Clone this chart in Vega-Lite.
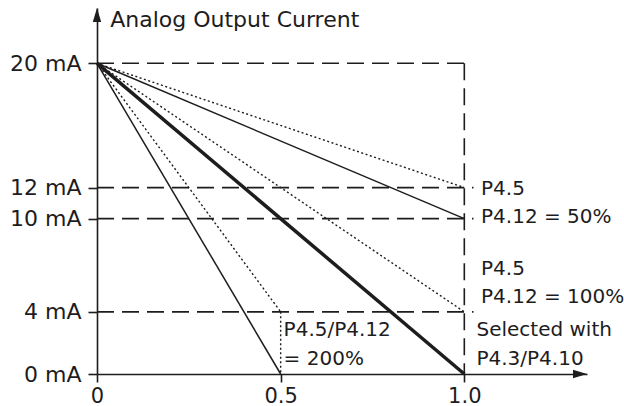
{
  "$schema": "https://vega.github.io/schema/vega-lite/v6.json",
  "width": 490,
  "height": 366,
  "autosize": {"type": "none"},
  "padding": {"left": 97, "top": 8, "right": 37, "bottom": 32},
  "background": "white",
  "config": {"view": {"stroke": null}, "font": "DejaVu Sans"},
  "datasets": {
    "segs": [
      {"style": "dash", "x": 0, "y": 20, "x2": 1.0, "y2": 20},
      {"style": "dash", "x": 0, "y": 12, "x2": 1.025, "y2": 12},
      {"style": "dash", "x": 0, "y": 10, "x2": 1.025, "y2": 10},
      {"style": "dash", "x": 0, "y": 4, "x2": 1.025, "y2": 4},
      {"style": "dash", "x": 1.0, "y": 20, "x2": 1.0, "y2": 0},
      {"style": "dot", "x": 0, "y": 20, "x2": 1.0, "y2": 12},
      {"style": "dot", "x": 0, "y": 20, "x2": 1.0, "y2": 4},
      {"style": "dot", "x": 0, "y": 20, "x2": 0.5, "y2": 4},
      {"style": "dot", "x": 0.5, "y": 4, "x2": 0.5, "y2": 0},
      {"style": "thin", "x": 0, "y": 20, "x2": 1.0, "y2": 10},
      {"style": "thin", "x": 0, "y": 20, "x2": 0.5, "y2": 0},
      {"style": "thick", "x": 0, "y": 20, "x2": 1.0, "y2": 0}
    ],
    "titles": [
      {"x": 0.036, "y": 22.33, "text": "Analog Output Current"}
    ],
    "labels": [
      {"x": 1.0455, "y": 11.53, "text": "P4.5"},
      {"x": 1.0455, "y": 9.73, "text": "P4.12 = 50%"},
      {"x": 1.0455, "y": 6.37, "text": "P4.5"},
      {"x": 1.0455, "y": 4.59, "text": "P4.12 = 100%"},
      {"x": 1.033, "y": 2.42, "text": "Selected with"},
      {"x": 1.033, "y": 0.6, "text": "P4.3/P4.10"},
      {"x": 0.508, "y": 2.42, "text": "P4.5/P4.12"},
      {"x": 0.508, "y": 0.6, "text": "= 200%"}
    ],
    "arrows": [
      {"dir": "right", "x": 1.334, "y": 0},
      {"dir": "up", "x": 0, "y": 23.56}
    ]
  },
  "layer": [
    {
      "data": {"name": "segs"},
      "transform": [{"filter": "datum.style == 'dash'"}],
      "mark": {"type": "rule", "color": "#1e1c1d", "strokeWidth": 1.6, "strokeDash": [17, 8]},
      "encoding": {
        "x": {"field": "x", "type": "quantitative", "scale": {"domain": [0, 1.334], "nice": false, "zero": false},
          "axis": {"values": [0, 0.5, 1.0], "title": null, "grid": false, "domainColor": "#1e1c1d", "domainWidth": 1.6,
            "tickColor": "#1e1c1d", "tickWidth": 1.6, "tickSize": 8, "labelFontSize": 21, "labelFont": "DejaVu Sans",
            "labelColor": "#1e1c1d", "labelPadding": 3, "labelFlush": false,
            "labelExpr": "datum.value == 0 ? '0' : format(datum.value, '.1f')"}},
        "y": {"field": "y", "type": "quantitative", "scale": {"domain": [0, 23.56], "nice": false, "zero": false},
          "axis": {"values": [0, 4, 10, 12, 20], "title": null, "grid": false, "domainColor": "#1e1c1d", "domainWidth": 1.6,
            "tickColor": "#1e1c1d", "tickWidth": 1.6, "tickSize": 9, "labelFontSize": 22, "labelFont": "DejaVu Sans",
            "labelColor": "#1e1c1d", "labelPadding": 7, "labelFlush": false,
            "labelExpr": "datum.value + ' mA'"}},
        "x2": {"field": "x2"},
        "y2": {"field": "y2"}
      }
    },
    {
      "data": {"name": "segs"},
      "transform": [{"filter": "datum.style == 'dot'"}],
      "mark": {"type": "rule", "color": "#1e1c1d", "strokeWidth": 1.4, "strokeDash": [2, 2.5]},
      "encoding": {
        "x": {"field": "x", "type": "quantitative"},
        "y": {"field": "y", "type": "quantitative"},
        "x2": {"field": "x2"},
        "y2": {"field": "y2"}
      }
    },
    {
      "data": {"name": "segs"},
      "transform": [{"filter": "datum.style == 'thin'"}],
      "mark": {"type": "rule", "color": "#1e1c1d", "strokeWidth": 1.5},
      "encoding": {
        "x": {"field": "x", "type": "quantitative"},
        "y": {"field": "y", "type": "quantitative"},
        "x2": {"field": "x2"},
        "y2": {"field": "y2"}
      }
    },
    {
      "data": {"name": "segs"},
      "transform": [{"filter": "datum.style == 'thick'"}],
      "mark": {"type": "rule", "color": "#1e1c1d", "strokeWidth": 3.5},
      "encoding": {
        "x": {"field": "x", "type": "quantitative"},
        "y": {"field": "y", "type": "quantitative"},
        "x2": {"field": "x2"},
        "y2": {"field": "y2"}
      }
    },
    {
      "data": {"name": "arrows"},
      "transform": [{"filter": "datum.dir == 'right'"}],
      "mark": {"type": "point", "shape": "M 0 0 L -2 -0.6 L -2 0.6 Z", "filled": true, "color": "#1e1c1d", "size": 196, "opacity": 1},
      "encoding": {
        "x": {"field": "x", "type": "quantitative"},
        "y": {"field": "y", "type": "quantitative"}
      }
    },
    {
      "data": {"name": "arrows"},
      "transform": [{"filter": "datum.dir == 'up'"}],
      "mark": {"type": "point", "shape": "M 0 0 L -0.6 2 L 0.6 2 Z", "filled": true, "color": "#1e1c1d", "size": 196, "opacity": 1},
      "encoding": {
        "x": {"field": "x", "type": "quantitative"},
        "y": {"field": "y", "type": "quantitative"}
      }
    },
    {
      "data": {"name": "titles"},
      "mark": {"type": "text", "align": "left", "baseline": "alphabetic", "font": "DejaVu Sans", "fontSize": 22, "color": "#1e1c1d"},
      "encoding": {
        "x": {"field": "x", "type": "quantitative"},
        "y": {"field": "y", "type": "quantitative"},
        "text": {"field": "text"}
      }
    },
    {
      "data": {"name": "labels"},
      "mark": {"type": "text", "align": "left", "baseline": "alphabetic", "font": "DejaVu Sans", "fontSize": 20, "color": "#1e1c1d"},
      "encoding": {
        "x": {"field": "x", "type": "quantitative"},
        "y": {"field": "y", "type": "quantitative"},
        "text": {"field": "text"}
      }
    }
  ]
}
